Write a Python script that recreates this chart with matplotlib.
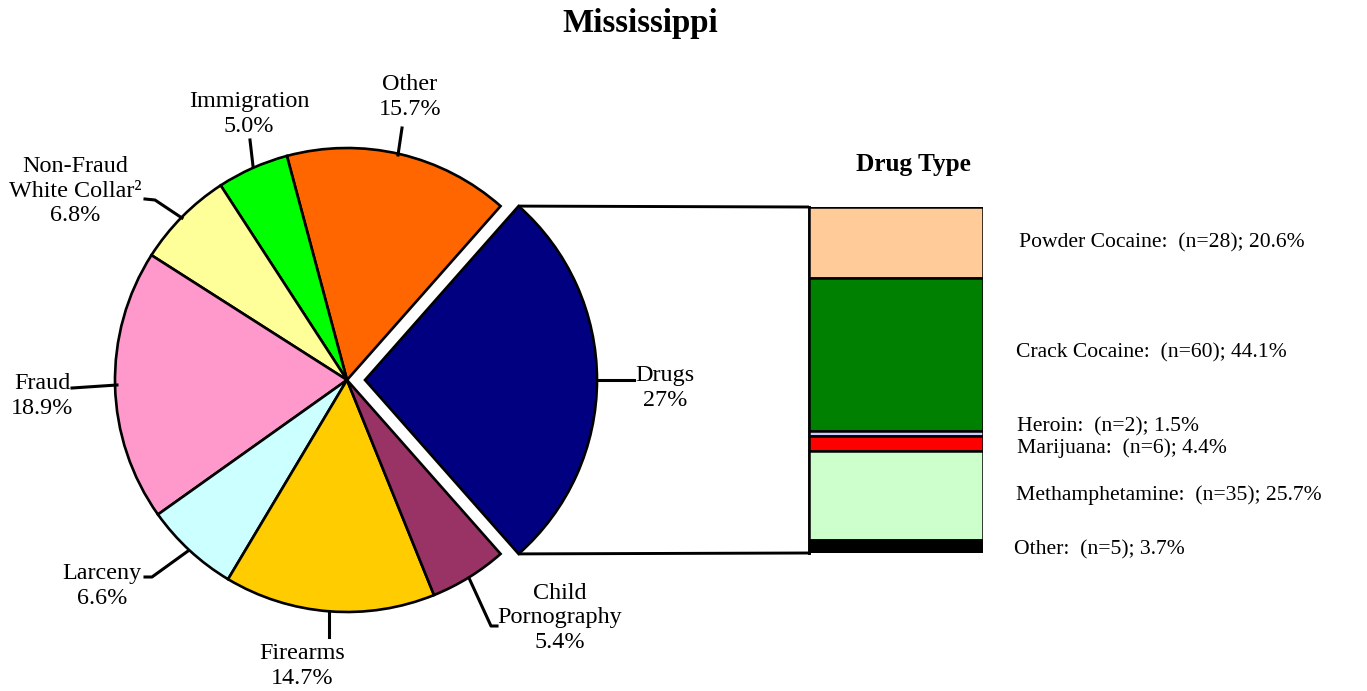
import numpy as np
import matplotlib.pyplot as plt

plt.rcParams['font.family'] = ['Liberation Serif', 'DejaVu Serif']

# offense types (pie), going counter-clockwise from Drugs
offenses = ['Drugs', 'Other', 'Immigration', 'Non-Fraud\nWhite Collar\u00b2', 'Fraud',
            'Larceny', 'Firearms', 'Child\nPornography']
offense_pct = [27.0, 15.7, 5.0, 6.8, 18.9, 6.6, 14.7, 5.4]
offense_lbl = ['27%', '15.7%', '5.0%', '6.8%', '18.9%', '6.6%', '14.7%', '5.4%']
pie_colors = ['#000080', '#FF6600', '#00FF00', '#FFFF99', '#FF99CC',
              '#CCFFFF', '#FFCC00', '#993366']

# drug types (stacked bar), top to bottom
drugs = ['Powder Cocaine', 'Crack Cocaine', 'Heroin', 'Marijuana', 'Methamphetamine', 'Other']
drug_n = [28, 60, 2, 6, 35, 5]
drug_pct = [20.6, 44.1, 1.5, 4.4, 25.7, 3.7]
bar_colors = ['#FFCC99', '#008000', '#CCCCFF', '#FF0000', '#CCFFCC', '#000000']

W, H = 1367, 691
fig = plt.figure(figsize=(W / 100, H / 100), dpi=100)
ax = fig.add_axes([0, 0, 1, 1])

def py(y):  # pixel row -> data y
    return H - y

cx, cy, R = 347, py(380), 232
explode = [18] + [0] * (len(offenses) - 1)  # pie explode is in data units here
half = offense_pct[0] / sum(offense_pct) * 360 / 2
wedges, _ = ax.pie(offense_pct, colors=pie_colors, startangle=-half, counterclock=True,
                   explode=explode, center=(cx, cy), radius=R, frame=True,
                   wedgeprops=dict(edgecolor='black', linewidth=1.9))
ax.set_xlim(0, W)
ax.set_ylim(0, H)
ax.set_aspect('equal')
ax.axis('off')

# stacked bar for drug types
bl, br, bt, bb = 809, 983, 207, 553
bax = fig.add_axes([bl / W, (H - bb) / H, (br - bl) / W, (bb - bt) / H])
bottom = 100.0
for v, c in zip(drug_pct, bar_colors):
    bottom -= v
    bax.bar(0, v, bottom=bottom, width=1, color=c, edgecolor='black', linewidth=1.8)
bax.set_xlim(-0.5, 0.5)
bax.set_ylim(bottom, 100)
bax.axis('off')

# connector lines between exploded wedge and bar
w0 = wedges[0]
(wx, wy), r0 = w0.center, w0.r
for th, yb in [(w0.theta2, bt), (w0.theta1, bb)]:
    x0 = wx + r0 * np.cos(np.radians(th))
    y0 = wy + r0 * np.sin(np.radians(th))
    ax.plot([x0, bl], [y0, py(yb)], color='black', lw=2.1, solid_capstyle='butt')
ax.plot([bl, bl], [py(bt), py(bb)], color='black', lw=2.1)

# pie labels and leader lines (pixel positions)
lab_pos = [(665, 388), (410, 97), (249, 114), (75, 191), (42, 396),
           (102, 586), (302, 666), (560, 618)]
leaders = [
    [(597, 380), (634, 380)],
    [(398, 155), (402, 128)],
    [(253, 166), (250, 140)],
    [(182, 218), (155, 200), (145, 199)],
    [(117, 385), (72, 388)],
    [(188, 551), (152, 577), (145, 577)],
    [(329, 611), (329, 637)],
    [(469, 578), (491, 626), (497, 626)],
]
for name, pct, (tx, ty), pts in zip(offenses, offense_lbl, lab_pos, leaders):
    ax.text(tx, py(ty), f'{name}\n{pct}', ha='center', va='center',
            fontsize=17.4, linespacing=1.2)
    xs, ys = zip(*pts)
    ax.plot(xs, [py(v) for v in ys], color='black', lw=2.2)

ax.text(640, py(23), 'Mississippi', ha='center', va='center', fontsize=23.8, fontweight='bold')
ax.text(913, py(164), 'Drug Type', ha='center', va='center', fontsize=18.2, fontweight='bold')

drug_lab_pos = [(1019, 243), (1016, 353), (1017, 427), (1017, 448), (1016, 495), (1014, 550)]
for d, n, p, (tx, ty) in zip(drugs, drug_n, drug_pct, drug_lab_pos):
    ax.text(tx, py(ty), f'{d}:  (n={n}); {p}%', ha='left', va='center', fontsize=15.6)

fig.savefig('out.png', dpi=100)
